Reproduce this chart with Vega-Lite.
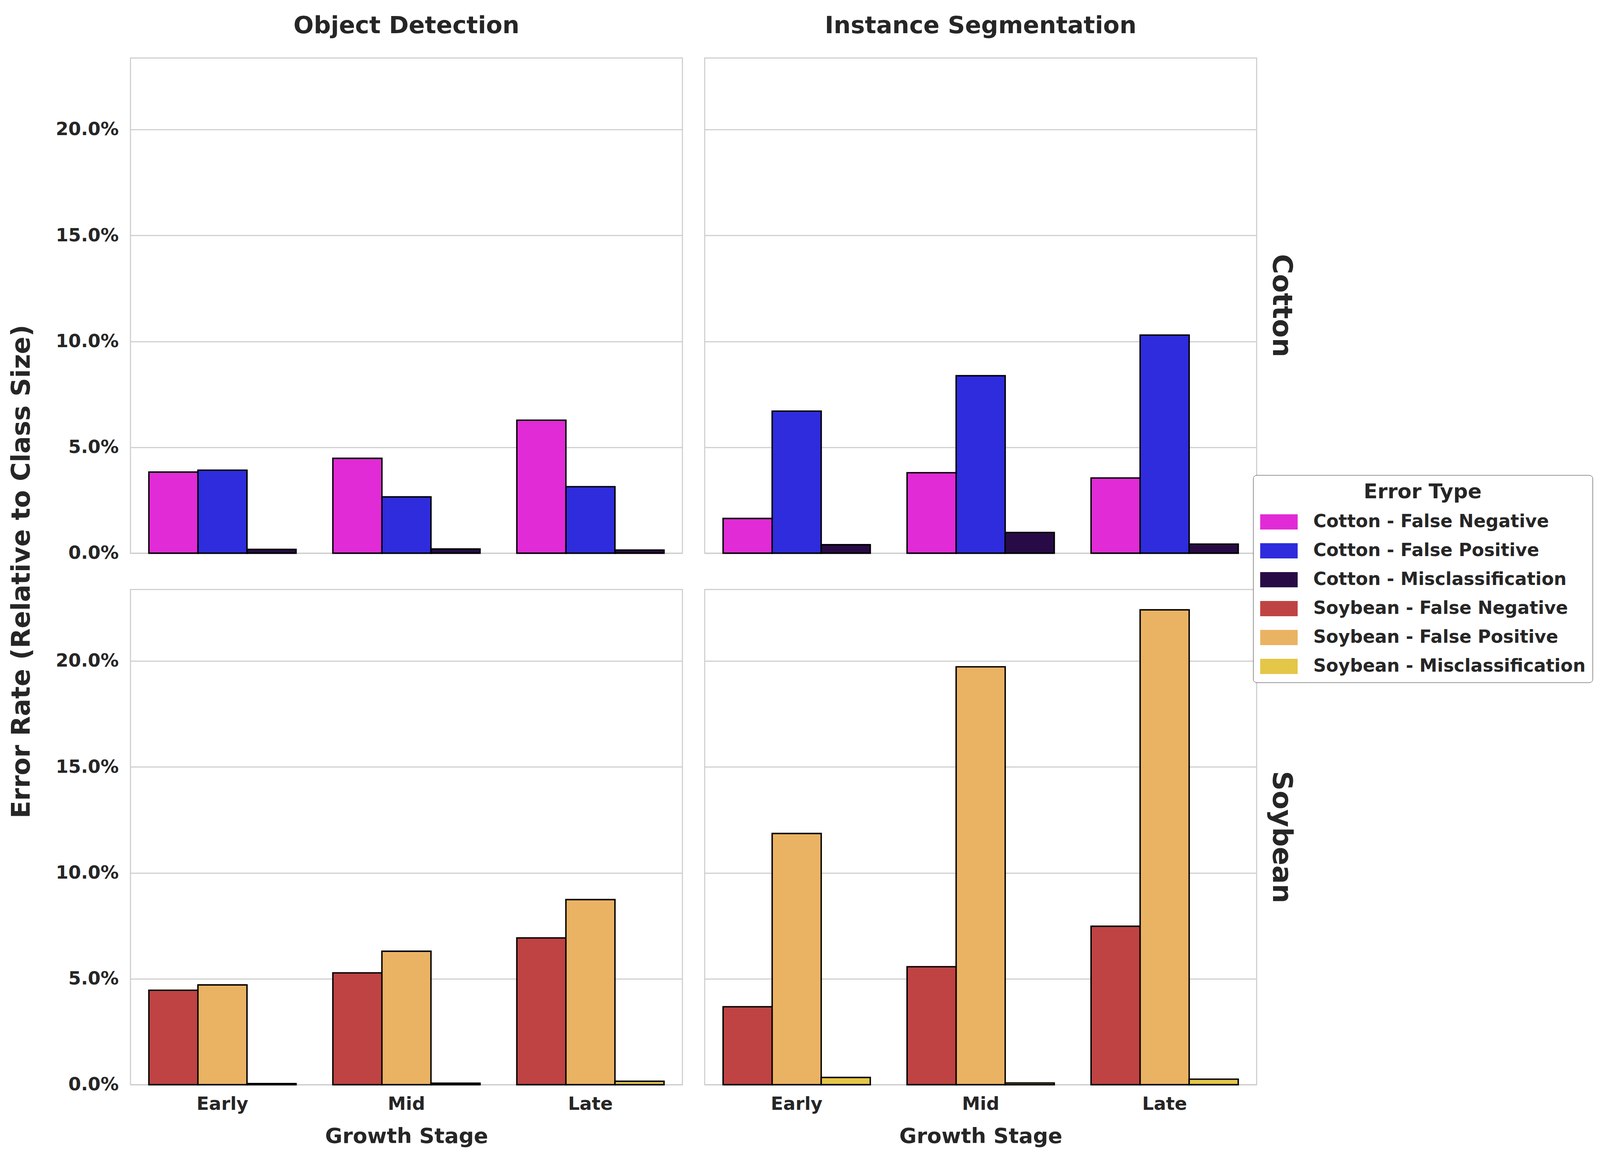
{
  "$schema": "https://vega.github.io/schema/vega-lite/v6.json",
  "background": "white",
  "padding": {"left": 22, "top": 35.6, "right": 8, "bottom": 28},
  "data": {"values": [
    {"Task": "Object Detection", "Crop": "Cotton", "Stage": "Early", "Error": "False Negative", "Type": "Cotton - False Negative", "Rate": 0.0383},
    {"Task": "Object Detection", "Crop": "Cotton", "Stage": "Early", "Error": "False Positive", "Type": "Cotton - False Positive", "Rate": 0.0392},
    {"Task": "Object Detection", "Crop": "Cotton", "Stage": "Early", "Error": "Misclassification", "Type": "Cotton - Misclassification", "Rate": 0.0018},
    {"Task": "Object Detection", "Crop": "Cotton", "Stage": "Mid", "Error": "False Negative", "Type": "Cotton - False Negative", "Rate": 0.0448},
    {"Task": "Object Detection", "Crop": "Cotton", "Stage": "Mid", "Error": "False Positive", "Type": "Cotton - False Positive", "Rate": 0.0266},
    {"Task": "Object Detection", "Crop": "Cotton", "Stage": "Mid", "Error": "Misclassification", "Type": "Cotton - Misclassification", "Rate": 0.0020},
    {"Task": "Object Detection", "Crop": "Cotton", "Stage": "Late", "Error": "False Negative", "Type": "Cotton - False Negative", "Rate": 0.0628},
    {"Task": "Object Detection", "Crop": "Cotton", "Stage": "Late", "Error": "False Positive", "Type": "Cotton - False Positive", "Rate": 0.0314},
    {"Task": "Object Detection", "Crop": "Cotton", "Stage": "Late", "Error": "Misclassification", "Type": "Cotton - Misclassification", "Rate": 0.0015},
    {"Task": "Instance Segmentation", "Crop": "Cotton", "Stage": "Early", "Error": "False Negative", "Type": "Cotton - False Negative", "Rate": 0.0164},
    {"Task": "Instance Segmentation", "Crop": "Cotton", "Stage": "Early", "Error": "False Positive", "Type": "Cotton - False Positive", "Rate": 0.0671},
    {"Task": "Instance Segmentation", "Crop": "Cotton", "Stage": "Early", "Error": "Misclassification", "Type": "Cotton - Misclassification", "Rate": 0.0040},
    {"Task": "Instance Segmentation", "Crop": "Cotton", "Stage": "Mid", "Error": "False Negative", "Type": "Cotton - False Negative", "Rate": 0.0380},
    {"Task": "Instance Segmentation", "Crop": "Cotton", "Stage": "Mid", "Error": "False Positive", "Type": "Cotton - False Positive", "Rate": 0.0838},
    {"Task": "Instance Segmentation", "Crop": "Cotton", "Stage": "Mid", "Error": "Misclassification", "Type": "Cotton - Misclassification", "Rate": 0.0098},
    {"Task": "Instance Segmentation", "Crop": "Cotton", "Stage": "Late", "Error": "False Negative", "Type": "Cotton - False Negative", "Rate": 0.0355},
    {"Task": "Instance Segmentation", "Crop": "Cotton", "Stage": "Late", "Error": "False Positive", "Type": "Cotton - False Positive", "Rate": 0.1030},
    {"Task": "Instance Segmentation", "Crop": "Cotton", "Stage": "Late", "Error": "Misclassification", "Type": "Cotton - Misclassification", "Rate": 0.0043},
    {"Task": "Object Detection", "Crop": "Soybean", "Stage": "Early", "Error": "False Negative", "Type": "Soybean - False Negative", "Rate": 0.0446},
    {"Task": "Object Detection", "Crop": "Soybean", "Stage": "Early", "Error": "False Positive", "Type": "Soybean - False Positive", "Rate": 0.0471},
    {"Task": "Object Detection", "Crop": "Soybean", "Stage": "Early", "Error": "Misclassification", "Type": "Soybean - Misclassification", "Rate": 0.0005},
    {"Task": "Object Detection", "Crop": "Soybean", "Stage": "Mid", "Error": "False Negative", "Type": "Soybean - False Negative", "Rate": 0.0528},
    {"Task": "Object Detection", "Crop": "Soybean", "Stage": "Mid", "Error": "False Positive", "Type": "Soybean - False Positive", "Rate": 0.0630},
    {"Task": "Object Detection", "Crop": "Soybean", "Stage": "Mid", "Error": "Misclassification", "Type": "Soybean - Misclassification", "Rate": 0.0007},
    {"Task": "Object Detection", "Crop": "Soybean", "Stage": "Late", "Error": "False Negative", "Type": "Soybean - False Negative", "Rate": 0.0693},
    {"Task": "Object Detection", "Crop": "Soybean", "Stage": "Late", "Error": "False Positive", "Type": "Soybean - False Positive", "Rate": 0.0874},
    {"Task": "Object Detection", "Crop": "Soybean", "Stage": "Late", "Error": "Misclassification", "Type": "Soybean - Misclassification", "Rate": 0.0016},
    {"Task": "Instance Segmentation", "Crop": "Soybean", "Stage": "Early", "Error": "False Negative", "Type": "Soybean - False Negative", "Rate": 0.0368},
    {"Task": "Instance Segmentation", "Crop": "Soybean", "Stage": "Early", "Error": "False Positive", "Type": "Soybean - False Positive", "Rate": 0.1186},
    {"Task": "Instance Segmentation", "Crop": "Soybean", "Stage": "Early", "Error": "Misclassification", "Type": "Soybean - Misclassification", "Rate": 0.0034},
    {"Task": "Instance Segmentation", "Crop": "Soybean", "Stage": "Mid", "Error": "False Negative", "Type": "Soybean - False Negative", "Rate": 0.0557},
    {"Task": "Instance Segmentation", "Crop": "Soybean", "Stage": "Mid", "Error": "False Positive", "Type": "Soybean - False Positive", "Rate": 0.1973},
    {"Task": "Instance Segmentation", "Crop": "Soybean", "Stage": "Mid", "Error": "Misclassification", "Type": "Soybean - Misclassification", "Rate": 0.0008},
    {"Task": "Instance Segmentation", "Crop": "Soybean", "Stage": "Late", "Error": "False Negative", "Type": "Soybean - False Negative", "Rate": 0.0748},
    {"Task": "Instance Segmentation", "Crop": "Soybean", "Stage": "Late", "Error": "False Positive", "Type": "Soybean - False Positive", "Rate": 0.2242},
    {"Task": "Instance Segmentation", "Crop": "Soybean", "Stage": "Late", "Error": "Misclassification", "Type": "Soybean - Misclassification", "Rate": 0.0026}
  ]},
  "facet": {
    "row": {
      "field": "Crop", "type": "nominal", "sort": ["Cotton", "Soybean"],
      "title": "Error Rate (Relative to Class Size)",
      "header": {
        "titleOrient": "left", "labelOrient": "right", "labelAngle": 90,
        "titleFontSize": 66, "labelFontSize": 70, "titlePadding": 42, "labelPadding": 25
      }
    },
    "column": {
      "field": "Task", "type": "nominal", "sort": ["Object Detection", "Instance Segmentation"],
      "title": null,
      "header": {"labelFontSize": 61, "labelPadding": 48.4}
    }
  },
  "spacing": {"row": 87, "column": 53},
  "spec": {
    "width": 1413,
    "height": 1268,
    "mark": {"type": "bar", "stroke": "black", "strokeWidth": 3.6},
    "encoding": {
      "x": {
        "field": "Stage", "type": "nominal", "sort": ["Early", "Mid", "Late"],
        "title": "Growth Stage",
        "scale": {"paddingInner": 0.2, "paddingOuter": 0.1}
      },
      "xOffset": {
        "field": "Error", "type": "nominal",
        "sort": ["False Negative", "False Positive", "Misclassification"],
        "scale": {"paddingInner": 0, "paddingOuter": 0}
      },
      "y": {
        "field": "Rate", "type": "quantitative",
        "scale": {"domain": [0, 0.2338], "nice": false, "zero": true},
        "axis": {"format": ".1%", "values": [0, 0.05, 0.1, 0.15, 0.2], "title": null}
      },
      "color": {
        "field": "Type", "type": "nominal",
        "scale": {
          "domain": ["Cotton - False Negative", "Cotton - False Positive", "Cotton - Misclassification", "Soybean - False Negative", "Soybean - False Positive", "Soybean - Misclassification"],
          "range": ["#E12BD6", "#2E2CDC", "#280B46", "#BF4343", "#EAB364", "#E4C648"]
        },
        "legend": {
          "orient": "none", "legendX": 2874, "legendY": 1068,
          "title": "Error Type", "titleAnchor": "middle", "titleFontSize": 52, "titlePadding": 27, "titleLimit": 2000,
          "labelFontSize": 45.7, "labelLimit": 2000,
          "symbolType": "M-2.46,-1H2.46V1H-2.46Z", "symbolSize": 1521, "symbolStrokeWidth": 0,
          "symbolOffset": 25.2, "labelOffset": 65, "rowPadding": 27,
          "padding": 18, "strokeColor": "#333333", "cornerRadius": 9, "fillColor": "white",
          "encode": {
            "legend": {"update": {"strokeWidth": {"value": 3.2}}},
            "symbols": {"update": {"fill": {"signal": "datum.value === 'Cotton - False Negative' ? '#FF12F0' : datum.value === 'Cotton - False Positive' ? '#1010FF' : datum.value === 'Cotton - Misclassification' ? '#270545' : datum.value === 'Soybean - False Negative' ? '#D32F2F' : datum.value === 'Soybean - False Positive' ? '#FFB74D' : '#FDD835'"}, "stroke": {"value": "white"}, "strokeWidth": {"value": 0}}}
          }
        }
      }
    }
  },
  "config": {
    "font": "DejaVu Sans",
    "view": {"stroke": "#cccccc", "strokeWidth": 2.7},
    "axis": {
      "labelFont": "DejaVu Sans", "labelFontWeight": "bold", "labelFontSize": 46.5, "labelColor": "#262626",
      "titleFont": "DejaVu Sans", "titleFontWeight": "bold", "titleFontSize": 54, "titleColor": "#262626",
      "domain": false, "ticks": false, "gridColor": "#cccccc", "gridWidth": 2.7
    },
    "axisX": {"grid": false, "labelPadding": 23, "titlePadding": 32, "labelAngle": 0},
    "axisY": {"labelPadding": 28.5},
    "header": {
      "labelFont": "DejaVu Sans", "labelFontWeight": "bold", "labelColor": "#262626",
      "titleFont": "DejaVu Sans", "titleFontWeight": "bold", "titleColor": "#262626"
    },
    "legend": {
      "labelFont": "DejaVu Sans", "labelFontWeight": "bold", "labelColor": "#262626",
      "titleFont": "DejaVu Sans", "titleFontWeight": "bold", "titleColor": "#262626"
    }
  }
}
